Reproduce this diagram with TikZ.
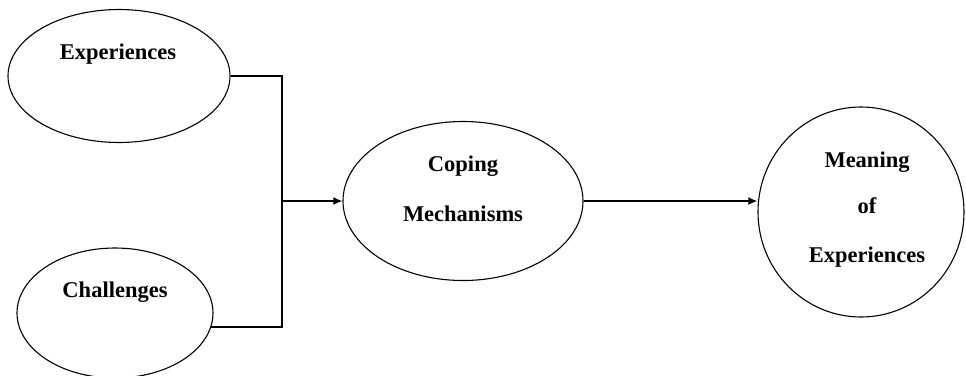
\documentclass[tikz,border=0pt]{standalone}
\usepackage{fontspec}
\setmainfont{Liberation Serif}
\usetikzlibrary{shapes.geometric,arrows.meta}

\begin{document}
\begin{tikzpicture}[x=1pt, y=-1pt, thick]
		\tikzset{oval/.style = {draw, ellipse, line width=1.1pt, inner sep=0pt},
			word/.style = {anchor=base, font=\fontsize{22.5}{27}\selectfont\bfseries},
			link/.style = {line width=2pt},
			arrow/.style = {link, -{Latex[length=9pt,width=8pt]}}}
		\useasboundingbox (0,0) rectangle (966,375);
		\clip (0,0) rectangle (966,375);
		
		\node[oval, minimum width=222, minimum height=133] (exp) at (119,76) {};
		\node[oval, minimum width=196, minimum height=130] (chal) at (115,313) {};
		\node[oval, minimum width=240, minimum height=159] (cop) at (463,201) {};
		\node[oval, minimum width=206, minimum height=210] (mean) at (861,212) {};
		
		\node[word] (expText) at (118,59) {Experiences};
		\node[word] (chalText) at (115,297) {Challenges};
		\node[word] (copText) at (463,171) {Coping};
		\node[word] (mechText) at (463,221) {Mechanisms};
		\node[word] (meanText) at (867,167) {Meaning};
		\node[word] (ofText) at (867,213) {of};
		\node[word] (exp2Text) at (867,262) {Experiences};
		
		\coordinate (join) at (282,201);
		\draw[link] (exp.east) -| (join) |- (chal.-8);
		\draw[arrow] (join) -- (cop.west);
		\draw[arrow] (cop.east) -- (cop.east -| mean.west);
	\end{tikzpicture}
\end{document}
